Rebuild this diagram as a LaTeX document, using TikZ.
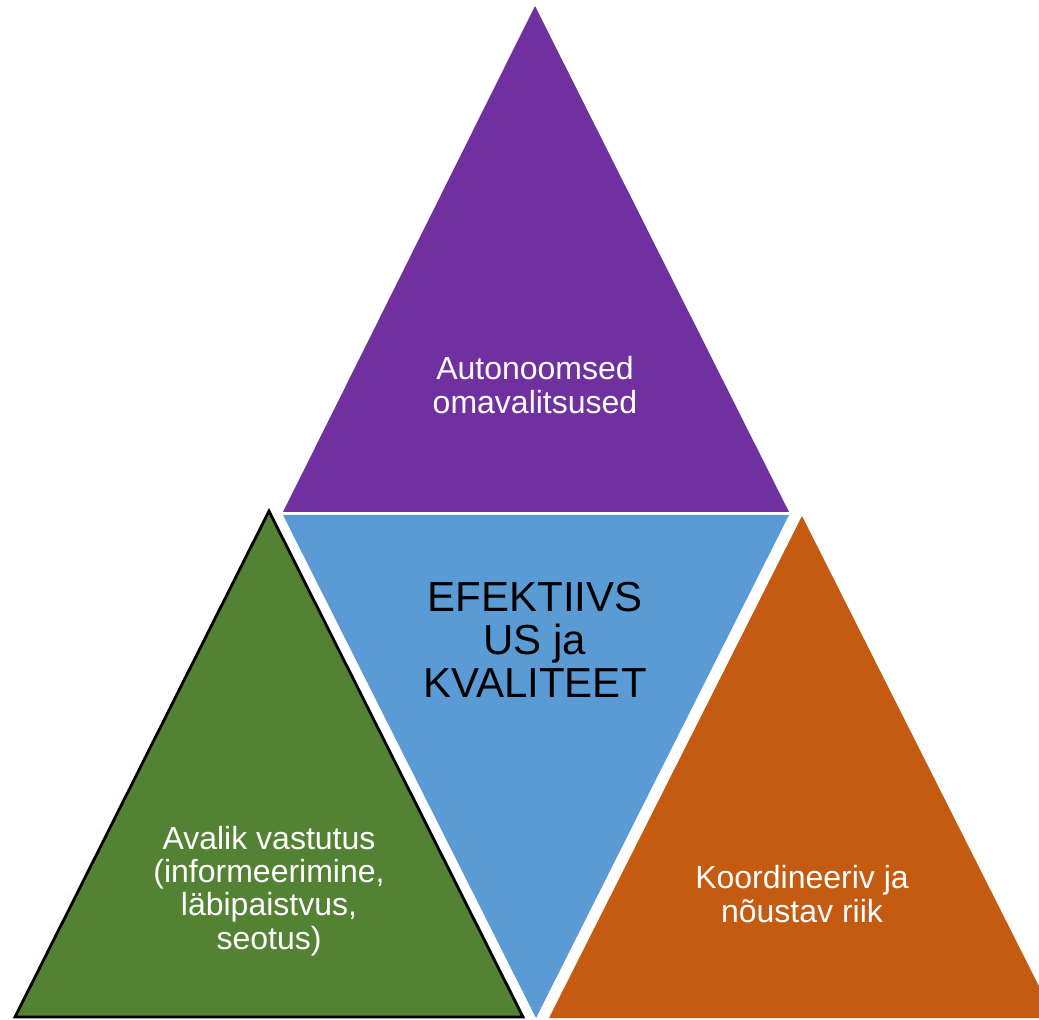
\documentclass[tikz,border=0pt]{standalone}
\usepackage{fontspec}
\setmainfont{Liberation Sans}
\definecolor{ovpurple}{RGB}{112, 48, 160}
\definecolor{efblue}{RGB}{91, 155, 213}
\definecolor{avgreen}{RGB}{84, 130, 53}
\definecolor{krorange}{RGB}{197, 90, 17}
\usetikzlibrary{shapes, calc}

\tikzset{
    label text/.style = {align = center, text = white, font = \fontsize{16}{16.6}\selectfont},
    core text/.style = {align = center, text = black, font = \fontsize{21}{21.5}\selectfont}
}

\begin{document}
\begin{tikzpicture}[x = 0.5pt, y = -0.5pt]
        \useasboundingbox (0,0) rectangle (1039,1020);
        \clip (0,0) rectangle (1039,1020);

        % corners of the triangles
        \coordinate (top) at (535,6);
        \coordinate (midleft) at (283,512);
        \coordinate (midright) at (789,512);
        \coordinate (bottom) at (536,1018);

        \fill [ovpurple] (top) -- (midright) -- (midleft) -- cycle;
        \fill [efblue] (283,515) -- (789,515) -- (bottom) -- cycle;
        \fill [krorange] (802,516) -- (1055,1018) -- (549,1018) -- cycle;
        \draw [fill = avgreen, line width = 1.4pt, line join = miter] (269,511) -- (523,1017) -- (15,1017) -- cycle;

        \node (omavalitsus) [label text] at (535,385) {Autonoomsed\\omavalitsused};
        \node (efektiivsus) [core text] at (535,640) {EFEKTIIVS\\US ja\\KVALITEET};
        \node (vastutus) [label text] at (269,891) {Avalik vastutus\\(informeerimine,\\läbipaistvus,\\seotus)};
        \node (riik) [label text] at (802,894) {Koordineeriv ja\\nõustav riik};
    \end{tikzpicture}
\end{document}
